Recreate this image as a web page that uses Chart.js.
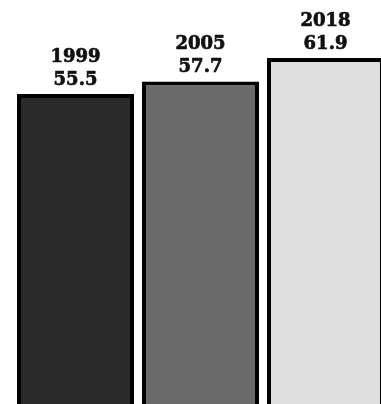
<!DOCTYPE html>
<html>
<head>
<meta charset="utf-8">
<script src="https://cdn.jsdelivr.net/npm/chart.js@4/dist/chart.umd.min.js"></script>
<style>
  html, body { margin: 0; padding: 0; background: #fff; overflow: hidden; }
  #wrap { width: 381px; height: 404px; overflow: hidden; }
</style>
</head>
<body>
<div id="wrap"><canvas id="chart" width="388" height="404"></canvas></div>
<script>
const years = ['1999', '2005', '2018'];
const values = [55.5, 57.7, 61.9];
const barColors = ['#2b2b2b', '#6a6a6a', '#dedede'];

// labels above each bar: year on first line, value on second
const topLabels = {
    id: 'topLabels',
    afterDatasetsDraw(chart) {
        const ctx = chart.ctx;
        const meta = chart.getDatasetMeta(0);
        ctx.save();
        ctx.fillStyle = '#111';
        ctx.strokeStyle = '#111';
        ctx.lineWidth = 0.7;
        ctx.font = 'bold 18px "DejaVu Serif", serif';
        ctx.textAlign = 'center';
        ctx.textBaseline = 'middle';
        meta.data.forEach((bar, i) => {
            const v = values[i].toFixed(1);
            ctx.fillText(v, bar.x, bar.y - 14);
            ctx.strokeText(v, bar.x, bar.y - 14);
            ctx.fillText(years[i], bar.x, bar.y - 37);
            ctx.strokeText(years[i], bar.x, bar.y - 37);
        });
        ctx.restore();
    }
};

new Chart(document.getElementById('chart'), {
    type: 'bar',
    data: {
        labels: years,
        datasets: [{
            data: values,
            backgroundColor: barColors,
            borderColor: '#000',
            borderWidth: 4,
            borderSkipped: 'start',
            barPercentage: 0.936,
            categoryPercentage: 1
        }]
    },
    options: {
        responsive: false,
        animation: false,
        layout: { padding: { left: 13, right: 0, top: 0, bottom: 0 } },
        plugins: {
            legend: { display: false },
            tooltip: { enabled: false }
        },
        scales: {
            x: { display: false },
            y: { display: false, min: 0, max: 72.3 }
        }
    },
    plugins: [topLabels]
});
</script>
</body>
</html>
